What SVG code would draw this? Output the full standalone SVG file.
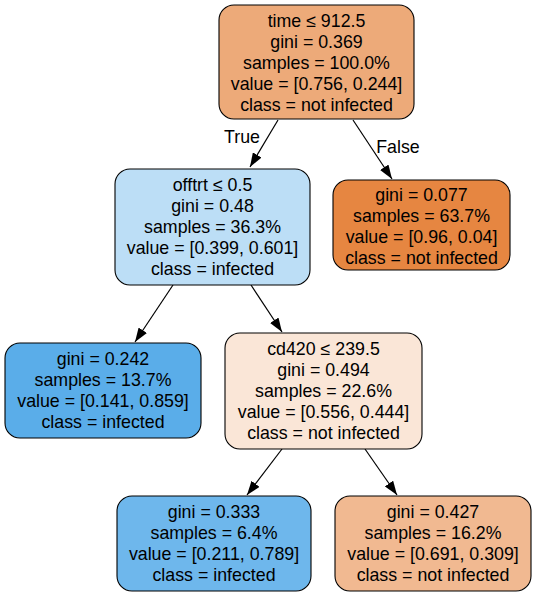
<svg xmlns="http://www.w3.org/2000/svg" width="535" height="596" viewBox="0 0 535 596">
<style>
.n{stroke:#000;stroke-width:1.1}
text{font-family:"Liberation Sans",Arial,Helvetica,sans-serif;font-size:17.8px;fill:#000;text-anchor:middle}
.e{stroke:#000;stroke-width:1.2;fill:none}
</style>
<defs>
<marker id="ah" viewBox="0 0 14 10" refX="14" refY="5" markerWidth="14" markerHeight="10" markerUnits="userSpaceOnUse" orient="auto">
<path d="M0,0 L14,5 L0,10 Z" fill="#000"/>
</marker>
</defs>
<rect width="535" height="596" fill="#fff"/>
<g id="edges">
<line class="e" x1="278" y1="120" x2="250" y2="167" marker-end="url(#ah)"/>
<line class="e" x1="353" y1="120" x2="392" y2="179" marker-end="url(#ah)"/>
<line class="e" x1="173" y1="285" x2="135" y2="342" marker-end="url(#ah)"/>
<line class="e" x1="251" y1="285" x2="282" y2="332" marker-end="url(#ah)"/>
<line class="e" x1="282" y1="449" x2="247" y2="495" marker-end="url(#ah)"/>
<line class="e" x1="365" y1="449" x2="397" y2="495" marker-end="url(#ah)"/>
<text x="242" y="143">True</text>
<text x="398" y="153">False</text>
</g>
<g id="node0">
<rect class="n" x="219" y="5" width="195" height="114" rx="15" fill="#edaa79"/>
<text x="316.5" y="27">time ≤ 912.5</text>
<text x="316.5" y="48">gini = 0.369</text>
<text x="316.5" y="69">samples = 100.0%</text>
<text x="316.5" y="90">value = [0.756, 0.244]</text>
<text x="316.5" y="111">class = not infected</text>
</g>
<g id="node1">
<rect class="n" x="115" y="169" width="195" height="116" rx="15" fill="#bcdef6"/>
<text x="212.5" y="191">offtrt ≤ 0.5</text>
<text x="212.5" y="212">gini = 0.48</text>
<text x="212.5" y="233">samples = 36.3%</text>
<text x="212.5" y="254">value = [0.399, 0.601]</text>
<text x="212.5" y="275">class = infected</text>
</g>
<g id="node2">
<rect class="n" x="5" y="343" width="196" height="95" rx="15" fill="#5aade9"/>
<text x="103" y="365">gini = 0.242</text>
<text x="103" y="386">samples = 13.7%</text>
<text x="103" y="407">value = [0.141, 0.859]</text>
<text x="103" y="428">class = infected</text>
</g>
<g id="node3">
<rect class="n" x="225" y="333" width="197" height="116" rx="15" fill="#fae6d7"/>
<text x="323.5" y="355">cd420 ≤ 239.5</text>
<text x="323.5" y="376">gini = 0.494</text>
<text x="323.5" y="397">samples = 22.6%</text>
<text x="323.5" y="418">value = [0.556, 0.444]</text>
<text x="323.5" y="439">class = not infected</text>
</g>
<g id="node4">
<rect class="n" x="117" y="496" width="194" height="95" rx="15" fill="#6eb7ec"/>
<text x="214" y="518">gini = 0.333</text>
<text x="214" y="539">samples = 6.4%</text>
<text x="214" y="560">value = [0.211, 0.789]</text>
<text x="214" y="581">class = infected</text>
</g>
<g id="node5">
<rect class="n" x="335" y="496" width="196" height="95" rx="15" fill="#f1b991"/>
<text x="433" y="518">gini = 0.427</text>
<text x="433" y="539">samples = 16.2%</text>
<text x="433" y="560">value = [0.691, 0.309]</text>
<text x="433" y="581">class = not infected</text>
</g>
<g id="node6">
<rect class="n" x="333" y="180" width="177" height="90" rx="15" fill="#e68641"/>
<text x="421.5" y="201">gini = 0.077</text>
<text x="421.5" y="222">samples = 63.7%</text>
<text x="421.5" y="243">value = [0.96, 0.04]</text>
<text x="421.5" y="264">class = not infected</text>
</g>
</svg>
